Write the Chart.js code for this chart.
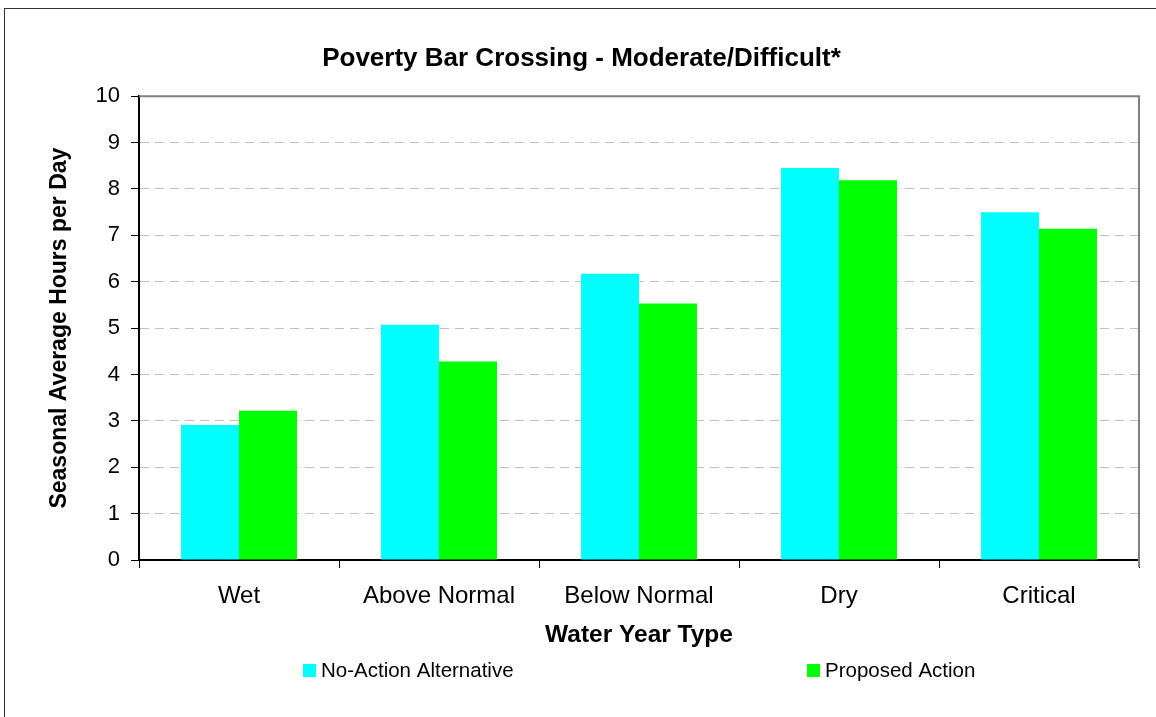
<!DOCTYPE html>
<html>
<head>
<meta charset="utf-8">
<script src="https://cdn.jsdelivr.net/npm/chart.js@4/dist/chart.umd.min.js"></script>
<style>
  html, body { margin: 0; padding: 0; background: #fff; }
  #wrap { position: relative; width: 1156px; height: 717px; }
</style>
</head>
<body>
<div id="wrap"><canvas id="chart"></canvas></div>
<script>
// ---- data ----
const categories = ['Wet', 'Above Normal', 'Below Normal', 'Dry', 'Critical'];
const noAction = [2.91, 5.07, 6.17, 8.45, 7.50];
const proposed = [3.22, 4.28, 5.53, 8.19, 7.14];
const seriesNames = ['No-Action Alternative', 'Proposed Action'];
const yTicks = [0, 1, 2, 3, 4, 5, 6, 7, 8, 9, 10];

const FONT = '"Liberation Sans", Arial, Helvetica, sans-serif';

// outer frame + plot frame (top / right in grey)
const frames = {
  id: 'frames',
  beforeDraw(chart) {
    const { ctx, width, height } = chart;
    ctx.save();
    ctx.fillStyle = '#fff';
    ctx.fillRect(0, 0, width, height);
    ctx.strokeStyle = '#333';
    ctx.lineWidth = 1;
    ctx.strokeRect(4.5, 8.5, width + 20, height + 20);
    ctx.restore();
  },
  afterDraw(chart) {
    const { ctx, chartArea: a } = chart;
    ctx.save();
    ctx.strokeStyle = '#808080';
    ctx.lineWidth = 2;
    ctx.beginPath();
    ctx.moveTo(a.left, a.top);
    ctx.lineTo(a.right, a.top);
    ctx.lineTo(a.right, a.bottom + 7);
    ctx.stroke();
    ctx.restore();
  },
};

// legend spread like the original: two items far apart
const spreadLegend = {
  id: 'spreadLegend',
  afterDraw(chart) {
    const { ctx, chartArea: a } = chart;
    const offs = [164, 668];
    const y = 670;
    ctx.save();
    ctx.font = '20.5px ' + FONT;
    ctx.textBaseline = 'middle';
    chart.data.datasets.forEach((ds, i) => {
      const x = a.left + offs[i];
      ctx.fillStyle = ds.backgroundColor;
      ctx.fillRect(x, y - 6, 13, 13);
      ctx.fillStyle = '#000';
      ctx.fillText(ds.label, x + 18, y + 1);
    });
    ctx.restore();
  },
};

new Chart(document.getElementById('chart').getContext('2d'), {
  type: 'bar',
  data: {
    labels: categories,
    datasets: [
      { label: seriesNames[0], data: noAction, backgroundColor: '#00ffff', borderWidth: 0 },
      { label: seriesNames[1], data: proposed, backgroundColor: '#00ff00', borderWidth: 0 },
    ],
  },
  plugins: [frames, spreadLegend],
  options: {
    responsive: true,
    maintainAspectRatio: false,
    animation: false,
    layout: { padding: { left: 24, right: 17, top: 0, bottom: 0 } },
    datasets: { bar: { categoryPercentage: 0.58, barPercentage: 1.0 } },
    plugins: {
      legend: { display: false },
      tooltip: { enabled: false },
      title: {
        display: true,
        text: 'Poverty Bar Crossing - Moderate/Difficult*',
        color: '#000',
        font: { family: FONT, size: 26, weight: 'bold' },
        padding: { top: 43, bottom: 22 },
      },
    },
    scales: {
      x: {
        afterFit: s => { s.height = 157; },
        offset: true,
        grid: { display: true, offset: true, drawOnChartArea: false, drawTicks: true, tickLength: 8, color: '#000' },
        border: { display: true, color: '#000', width: 2 },
        ticks: { color: '#000', font: { family: FONT, size: 24 }, padding: 14 },
        title: {
          display: true,
          text: 'Water Year Type',
          color: '#000',
          font: { family: FONT, size: 24.5, weight: 'bold' },
          padding: { top: 0, bottom: 67 },
        },
      },
      y: {
        min: 0,
        max: 10,
        afterFit: s => { s.width = 115; },
        afterBuildTicks: s => { s.ticks = yTicks.map(v => ({ value: v })); },
        grid: { color: '#c0c0c0', tickColor: '#000', tickLength: 8, lineWidth: 1 },
        border: { display: true, color: '#000', width: 2, dash: [9, 6] },
        ticks: { color: '#000', font: { family: FONT, size: 22 }, padding: 11 },
        title: {
          display: true,
          text: 'Seasonal Average Hours per Day',
          color: '#000',
          font: { family: FONT, size: 23, weight: 'bold' },
          padding: { top: 22, bottom: 0 },
        },
      },
    },
  },
});
</script>
</body>
</html>
